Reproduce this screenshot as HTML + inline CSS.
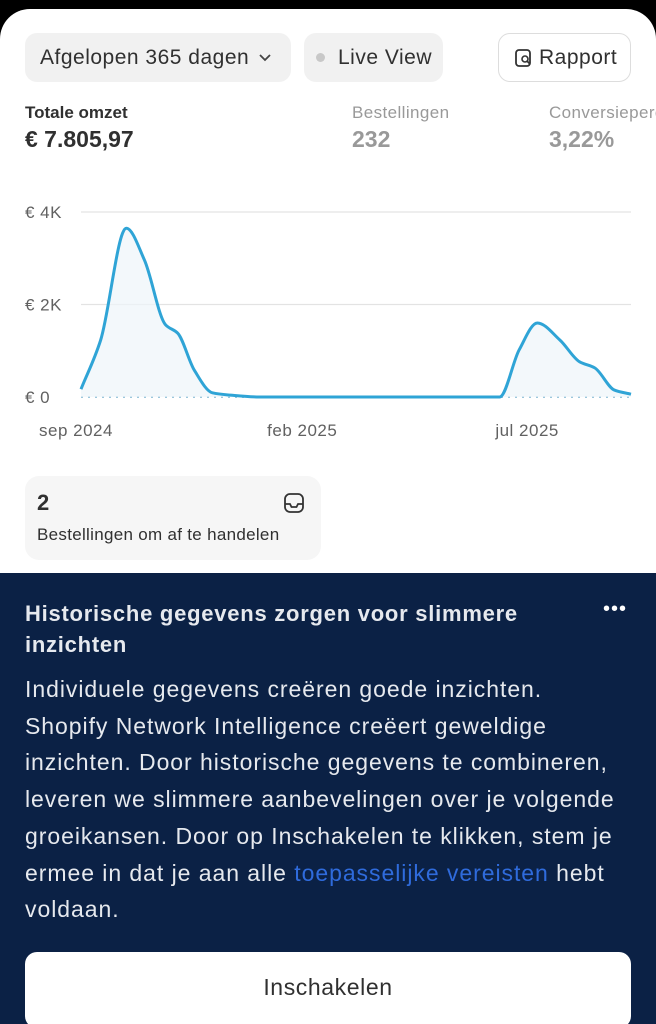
<!DOCTYPE html>
<html style="width:656px;height:1024px;overflow:hidden"><head><meta charset="utf-8"><style>
*{margin:0;padding:0;box-sizing:border-box}
body{width:656px;height:1024px;overflow:hidden;background:#000;font-family:"Liberation Sans",sans-serif;position:relative}
#root{position:absolute;left:0;top:0;width:656px;height:1024px;overflow:hidden}
.card{position:absolute;left:0;top:9px;width:656px;height:1015px;background:#fff;border-radius:30px 30px 0 0}
.abs{position:absolute;white-space:nowrap}
.pill{position:absolute;top:33px;height:49px;border-radius:12px;background:#f1f1f1;font-size:21px;letter-spacing:0.5px;color:#303030;display:flex;align-items:center}
.navy{position:absolute;left:0;top:573px;width:656px;height:451px;background:#0b2145}
.body{position:absolute;left:25px;top:671px;font-size:23px;letter-spacing:0.95px;line-height:36.7px;color:#e6e9ee;white-space:nowrap}
</style></head><body>
<div id="root">
<div class="card"></div>
<div class="pill" style="left:25px;width:266px;padding-left:15px">Afgelopen 365 dagen <svg width="16" height="10" style="margin-left:8px" viewBox="0 0 16 10"><path d="M3 2l5 5 5-5" fill="none" stroke="#444" stroke-width="1.8"/></svg></div>
<div class="pill" style="left:304px;width:139px;padding-left:12px"><span style="width:9px;height:9px;border-radius:50%;background:#c8c8c8;display:inline-block;margin-right:13px"></span>Live View</div>
<div class="pill" style="left:498px;width:133px;background:#fff;border:1.5px solid #ddd;padding-left:15px"><svg width="20" height="20" viewBox="0 0 20 20" style="margin-right:5px"><rect x="2" y="2" width="14" height="16" rx="3" fill="none" stroke="#333" stroke-width="1.8"/><circle cx="11" cy="11" r="3" fill="#fff" stroke="#333" stroke-width="1.6"/><path d="M13 13l3 3" stroke="#333" stroke-width="1.8"/></svg>Rapport</div>
<div class="abs" style="left:25px;top:103px;font-size:17px;font-weight:bold;color:#303030">Totale omzet</div>
<div class="abs" style="left:25px;top:126px;font-size:23px;font-weight:bold;color:#303030">€ 7.805,97</div>
<div class="abs" style="left:352px;top:103px;font-size:17px;letter-spacing:0.4px;color:#999">Bestellingen</div>
<div class="abs" style="left:352px;top:126px;font-size:23px;font-weight:bold;color:#999">232</div>
<div class="abs" style="left:549px;top:103px;font-size:17px;letter-spacing:0.4px;color:#999">Conversiepercentage</div>
<div class="abs" style="left:549px;top:126px;font-size:23px;font-weight:bold;color:#999">3,22%</div>
<svg id="chart" class="abs" style="left:0;top:190px" width="656" height="260"></svg>
<div style="position:absolute;left:25px;top:476px;width:296px;height:84px;border-radius:14px;background:#f6f6f6">
<div class="abs" style="left:12px;top:14px;font-size:22px;font-weight:bold;color:#303030">2</div>
<svg class="abs" style="left:258px;top:16px" width="22" height="22" viewBox="0 0 22 22"><rect x="2" y="2" width="18" height="18" rx="5" fill="none" stroke="#333" stroke-width="1.8"/><path d="M2 12h5l1.5 3h5l1.5-3h5" fill="none" stroke="#333" stroke-width="1.8"/></svg>
<div class="abs" style="left:12px;top:49px;font-size:17px;letter-spacing:0.3px;color:#303030">Bestellingen om af te handelen</div>
</div>
<div class="navy"></div>
<div class="abs" style="left:25px;top:598px;font-size:22px;letter-spacing:0.75px;line-height:31px;font-weight:bold;color:#e6e9ee">Historische gegevens zorgen voor slimmere<br>inzichten</div>
<div class="abs" style="left:603px;top:598px;font-size:20px;color:#fff;letter-spacing:1px">•••</div>
<div class="body">Individuele gegevens creëren goede inzichten.<br>Shopify Network Intelligence creëert geweldige<br>inzichten. Door historische gegevens te combineren,<br>leveren we slimmere aanbevelingen over je volgende<br>groeikansen. Door op Inschakelen te klikken, stem je<br>ermee in dat je aan alle <span style="color:#2f6bdc">toepasselijke vereisten</span> hebt<br>voldaan.</div>
<div style="position:absolute;left:25px;top:952px;width:606px;height:76px;background:#fff;border-radius:12px;display:flex;align-items:center;justify-content:center;font-size:23px;letter-spacing:0.6px;color:#303030;padding-bottom:6px">Inschakelen</div>
</div>
<script>
const yTicks=[0,2,4];
const yTickLabels=["€ 0","€ 2K","€ 4K"];
const xTickDays=[0,151,302];
const xTickLabels=["sep 2024","feb 2025","jul 2025"];
const days=[0,13,30,42,56,64,75,87,99,118,277,290,302,317,330,340,353,364];
const revenueK=[0.17,1.23,3.65,2.96,1.56,1.38,0.58,0.09,0.04,0,0,1.02,1.6,1.23,0.76,0.63,0.15,0.06];
const ns="http://www.w3.org/2000/svg",svg=document.getElementById('chart');
const X=d=>81+d/364*550, Y=v=>207-v*46.25;
function mk(t,a){const e=document.createElementNS(ns,t);for(const k in a)e.setAttribute(k,a[k]);svg.appendChild(e);return e;}
yTicks.forEach((v,i)=>{
 if(v>0){const l=mk('line',{x1:81,x2:631,y1:Y(v),y2:Y(v),stroke:'#e3e3e3','stroke-width':1.2});
 
 }
 const t=mk('text',{x:25,y:Y(v)+6,'font-size':17,fill:'#616161','font-family':'Liberation Sans','letter-spacing':0.5});t.textContent=yTickLabels[i];
 
 
});
const base=mk('line',{x1:81,x2:631,y1:Y(0),y2:Y(0),stroke:'#9cc7dc','stroke-width':2,'stroke-dasharray':'2 5'});


xTickDays.forEach((d,i)=>{const t=mk('text',{x:X(d)-42,y:246,'font-size':17,fill:'#616161','font-family':'Liberation Sans','letter-spacing':0.5});
 t.setAttribute('x',X(d)-42);t.textContent=xTickLabels[i];
 
 });
// monotone cubic interpolation
const P=days.map((d,i)=>[X(d),Y(revenueK[i])]);
const n=P.length,dx=[],sl=[],m=[];
for(let i=0;i<n-1;i++){dx[i]=P[i+1][0]-P[i][0];sl[i]=(P[i+1][1]-P[i][1])/dx[i];}
m[0]=sl[0];m[n-1]=sl[n-2];
for(let i=1;i<n-1;i++){m[i]=(sl[i-1]*sl[i]<=0)?0:(3*(dx[i-1]+dx[i]))/((2*dx[i]+dx[i-1])/sl[i-1]+(dx[i]+2*dx[i-1])/sl[i]);}
let p='M'+P[0];
for(let i=0;i<n-1;i++){const h=dx[i]/3;
 p+=` C${P[i][0]+h},${P[i][1]+m[i]*h} ${P[i+1][0]-h},${P[i+1][1]-m[i+1]*h} ${P[i+1]}`;}
const area=mk('path',{d:p+` L${X(364)},${Y(0)} L${X(0)},${Y(0)} Z`,fill:'#eef5f9',opacity:0.7});


const line=mk('path',{d:p,fill:'none',stroke:'#2fa4d6','stroke-width':3,'stroke-linejoin':'round'});


</script>
</body></html>
